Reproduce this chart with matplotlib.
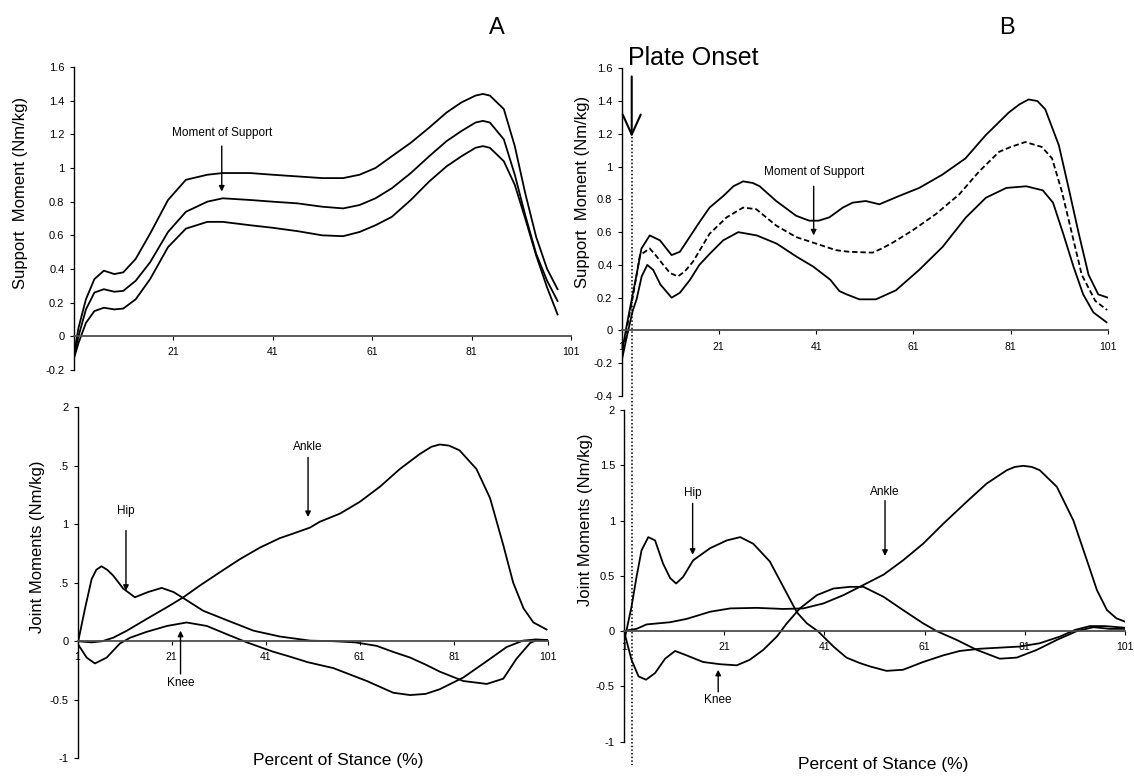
import matplotlib
matplotlib.use("Agg")
import matplotlib.pyplot as plt
import matplotlib.transforms as mtransforms
from matplotlib.lines import Line2D

plt.rcParams["font.family"] = ["Liberation Sans", "DejaVu Sans"]

W, H = 1134, 776

# ---------------- data: panel A (top) support moment, upper / mean / lower
a_sup_x = [1, 2, 3.5, 5.2, 7.1, 9.2, 11, 13.5, 16.4, 20, 23.6, 27.9, 31, 36.5, 41, 46, 51,
           55.2, 58.5, 61.7, 65, 68.8, 72.5, 76, 79, 81.8, 83.3, 84.7, 87.5, 89.7, 91.8, 94,
           96.2, 98.3]
a_sup_hi = [-0.12, 0.05, 0.22, 0.34, 0.39, 0.37, 0.38, 0.46, 0.61, 0.81, 0.93, 0.96, 0.97, 0.97,
            0.96, 0.95, 0.94, 0.94, 0.96, 1.0, 1.07, 1.15, 1.24, 1.33, 1.39, 1.43, 1.44, 1.43,
            1.35, 1.13, 0.85, 0.59, 0.40, 0.28]
a_sup_mid = [-0.13, 0.0, 0.16, 0.26, 0.28, 0.265, 0.27, 0.33, 0.44, 0.62, 0.74, 0.80, 0.82, 0.81,
             0.80, 0.79, 0.77, 0.76, 0.78, 0.82, 0.88, 0.97, 1.07, 1.16, 1.22, 1.27, 1.28, 1.27,
             1.17, 0.96, 0.72, 0.49, 0.33, 0.21]
a_sup_lo = [-0.14, -0.04, 0.08, 0.15, 0.17, 0.16, 0.165, 0.22, 0.34, 0.53, 0.64, 0.68, 0.68, 0.66,
            0.645, 0.625, 0.60, 0.595, 0.62, 0.66, 0.71, 0.81, 0.92, 1.01, 1.07, 1.12, 1.13, 1.12,
            1.04, 0.90, 0.70, 0.48, 0.29, 0.13]

# ---------------- data: panel A (bottom) joint moments
a_hip_x = [1, 2.6, 4, 5, 6.1, 7.3, 8.6, 10.7, 13.2, 16, 18.9, 21.4, 24.2, 27.7, 32.7, 38.4, 44,
           50.4, 55.4, 60, 64.6, 68, 71.7, 75, 78, 83, 88, 91.5, 94.3, 97.2, 98.6, 101]
a_hip_y = [-0.03, 0.28, 0.53, 0.61, 0.64, 0.61, 0.56, 0.45, 0.375, 0.42, 0.455, 0.42, 0.35, 0.26,
           0.18, 0.09, 0.04, 0.005, 0.0, -0.01, -0.04, -0.09, -0.14, -0.2, -0.26, -0.34, -0.365,
           -0.32, -0.15, -0.015, 0.01, 0.01]
a_knee_x = [1, 2.95, 4.7, 7.2, 10, 12.2, 15.7, 20, 24.2, 28.5, 32.7, 37, 42.6, 46, 50, 55.4,
            62.5, 68.1, 71.7, 75, 78, 83, 88, 92.2, 95.7, 98.4, 101]
a_knee_y = [-0.02, -0.14, -0.19, -0.14, -0.02, 0.03, 0.08, 0.13, 0.16, 0.13, 0.06, -0.01, -0.09,
            -0.13, -0.18, -0.23, -0.34, -0.44, -0.46, -0.45, -0.41, -0.31, -0.17, -0.05, 0.005,
            0.015, 0.01]
a_ankle_x = [1, 4, 6.3, 8.6, 11.5, 15.7, 20, 23.5, 27, 31.3, 35.5, 39.8, 44, 46.9, 50.4, 52.5,
             56.8, 61, 65.3, 69.5, 73.8, 76.2, 78, 80, 82.2, 85.8, 88.7, 91.5, 93.6, 95.8, 97.9,
             100.7]
a_ankle_y = [0, -0.01, 0.0, 0.03, 0.09, 0.19, 0.29, 0.375, 0.475, 0.59, 0.70, 0.80, 0.88, 0.92,
             0.97, 1.02, 1.09, 1.19, 1.32, 1.47, 1.60, 1.66, 1.68, 1.67, 1.63, 1.47, 1.22, 0.82,
             0.50, 0.28, 0.16, 0.10]

# ---------------- data: panel B (top) support moment
b_hi_x = [1, 2, 3.3, 4.1, 5.1, 6.8, 8.9, 11.3, 13, 15, 17, 19.1, 21.9, 24, 26, 28, 29.4, 32.8,
          36.9, 39.6, 41.5, 43.7, 46.5, 48.5, 51.2, 54, 58, 62.2, 66.9, 71.7, 75.8, 80.6, 82.8,
          84.7, 86.5, 88.1, 90.9, 92.9, 95, 97, 99, 101]
b_hi_y = [-0.15, 0.02, 0.22, 0.34, 0.50, 0.58, 0.55, 0.46, 0.48, 0.57, 0.66, 0.75, 0.82, 0.88,
          0.91, 0.90, 0.88, 0.79, 0.70, 0.67, 0.67, 0.69, 0.75, 0.78, 0.79, 0.77, 0.82, 0.87,
          0.95, 1.05, 1.19, 1.33, 1.38, 1.41, 1.40, 1.35, 1.13, 0.87, 0.59, 0.34, 0.22, 0.20]
b_mid_x = [1, 2, 3.3, 4.8, 6.8, 8, 9.6, 11, 12.6, 14, 15.7, 17.5, 19.1, 22.6, 26, 28.7, 32.8,
           36.9, 41, 45.1, 47.8, 52.6, 54.5, 56.7, 60.8, 65.6, 70.4, 74.5, 78.6, 81, 84, 87.4,
           89.5, 91.5, 93.6, 95.6, 98.4, 100.8]
b_mid_y = [-0.17, 0.0, 0.2, 0.46, 0.50, 0.46, 0.40, 0.35, 0.33, 0.36, 0.42, 0.51, 0.59, 0.69,
           0.75, 0.74, 0.64, 0.57, 0.53, 0.49, 0.48, 0.475, 0.50, 0.535, 0.61, 0.71, 0.83, 0.97,
           1.09, 1.12, 1.15, 1.12, 1.05, 0.85, 0.59, 0.34, 0.18, 0.125]
b_lo_x = [1, 2, 3.3, 4.1, 5.15, 6.3, 7.5, 9, 11.3, 13, 15.1, 17, 19.2, 21.9, 25, 28.8, 32.9, 37,
          40.4, 43.9, 45.8, 47.3, 49.9, 53.3, 57.4, 62.2, 67, 71.8, 75.9, 80.1, 84.2, 87.6, 89.7,
          91.8, 93.9, 95.9, 98, 100.7]
b_lo_y = [-0.19, -0.05, 0.12, 0.19, 0.33, 0.40, 0.37, 0.28, 0.20, 0.23, 0.31, 0.40, 0.47, 0.55,
          0.60, 0.58, 0.53, 0.45, 0.39, 0.31, 0.24, 0.22, 0.19, 0.19, 0.245, 0.37, 0.51, 0.69,
          0.81, 0.87, 0.88, 0.855, 0.78, 0.59, 0.39, 0.22, 0.11, 0.05]

# ---------------- data: panel B (bottom) joint moments
b_hip_x = [1, 2.5, 3.5, 4.5, 5.85, 7.2, 8.8, 10.2, 11.4, 12.8, 14.8, 18.2, 21.5, 24.2, 26.8,
           30.1, 32.8, 35.5, 37.5, 39.8, 42.8, 45.4, 48.1, 50.1, 53.4, 56.7, 60.7, 64.7, 68, 72,
           76, 80, 84, 88, 91, 94, 97, 101]
b_hip_y = [-0.1, 0.22, 0.49, 0.73, 0.85, 0.82, 0.61, 0.48, 0.43, 0.49, 0.64, 0.75, 0.82, 0.85,
           0.79, 0.63, 0.40, 0.17, 0.07, -0.005, -0.14, -0.24, -0.29, -0.32, -0.36, -0.35, -0.28,
           -0.22, -0.18, -0.16, -0.15, -0.14, -0.11, -0.05, 0.01, 0.045, 0.045, 0.03]
b_knee_x = [1, 2.5, 3.9, 5.4, 7.2, 9.2, 11.2, 13.5, 16.8, 20.2, 23.5, 26.1, 28.8, 31.5, 33.5,
            36.1, 39.5, 42.8, 46.1, 48.8, 52.8, 56.7, 60.7, 63.4, 67.4, 71.4, 76, 79.4, 83.4,
            87.4, 91.4, 94.7, 98, 101]
b_knee_y = [0.0, -0.26, -0.41, -0.44, -0.38, -0.25, -0.18, -0.22, -0.28, -0.30, -0.31, -0.26,
            -0.17, -0.05, 0.07, 0.205, 0.325, 0.385, 0.40, 0.40, 0.31, 0.19, 0.07, 0.0, -0.08,
            -0.17, -0.25, -0.24, -0.17, -0.08, 0.0, 0.035, 0.02, 0.02]
b_ankle_x = [1, 3.5, 5.5, 10.2, 13.5, 18.2, 22.2, 27.5, 32.8, 36.8, 40.8, 44.8, 47.4, 52.8, 56.7,
             60.7, 64.7, 69.4, 73.4, 77.4, 79, 80.7, 82.4, 84, 87.4, 90.7, 93.4, 95.4, 97.4,
             99.3, 101]
b_ankle_y = [0.0, 0.02, 0.06, 0.08, 0.11, 0.175, 0.205, 0.21, 0.20, 0.205, 0.25, 0.325, 0.385,
             0.51, 0.64, 0.79, 0.97, 1.17, 1.335, 1.455, 1.485, 1.495, 1.485, 1.455, 1.305, 1.0,
             0.64, 0.37, 0.19, 0.115, 0.085]

plate_onset = 3.1

sup_ticks = [-0.2, 0, 0.2, 0.4, 0.6, 0.8, 1, 1.2, 1.4, 1.6]
sup_labels = ["-0.2", "0", "0.2", "0.4", "0.6", "0.8", "1", "1.2", "1.4", "1.6"]
sup_ticks_b = [-0.4] + sup_ticks
sup_labels_b = ["-0.4"] + sup_labels
jm_ticks = [-1, -0.5, 0, 0.5, 1, 1.5, 2]
jm_labels_a = ["-1", "-0.5", "0", ".5", "1", ".5", "2"]
jm_labels_b = ["-1", "-0.5", "0", "0.5", "1", "1.5", "2"]
x_ticks = [1, 21, 41, 61, 81, 101]
x_labels = ["1", "21", "41", "61", "81", "101"]


def box(l, t, r, b):
    # pixel box -> figure rect
    return [l / W, 1 - b / H, (r - l) / W, (b - t) / H]


def style(ax, ylim, yt, yl, xt, xl):
    ax.set_xlim(1, 101)
    ax.set_ylim(*ylim)
    ax.patch.set_alpha(0)
    for s in ("top", "right"):
        ax.spines[s].set_visible(False)
    ax.spines["bottom"].set_position(("data", 0))
    ax.spines["bottom"].set_color("0.3")
    ax.spines["bottom"].set_linewidth(1.3)
    ax.spines["left"].set_linewidth(1.0)
    ax.set_yticks(yt)
    ax.set_yticklabels(yl, fontsize=8)
    ax.set_xticks(xt)
    ax.set_xticklabels(xl, fontsize=7.5)
    ax.tick_params(axis="both", direction="out", length=3, width=0.8)
    ax.tick_params(axis="x", pad=5)


def note(ax, text, x, ytext, ystart, yend):
    ax.text(x, ytext, text, fontsize=8.5, ha="center", va="center")
    ax.annotate("", xy=(x, yend), xytext=(x, ystart),
                arrowprops=dict(arrowstyle="-|>", lw=1.0, color="black",
                                mutation_scale=8, shrinkA=0, shrinkB=0))


def curve(ax, x, y, **kw):
    ax.plot(x, y, color="black", lw=1.3, solid_joinstyle="round", **kw)


fig = plt.figure(figsize=(W / 100, H / 100), dpi=100)

ax_tl = fig.add_axes(box(73.5, 67, 571, 370))
ax_bl = fig.add_axes(box(77.5, 407, 548, 758.3))
ax_tr = fig.add_axes(box(621.5, 68.3, 1108, 396))
ax_br = fig.add_axes(box(624, 410, 1125, 741.6))

# panel A top
curve(ax_tl, a_sup_x, a_sup_hi)
curve(ax_tl, a_sup_x, a_sup_mid)
curve(ax_tl, a_sup_x, a_sup_lo)
style(ax_tl, (-0.2, 1.6), sup_ticks, sup_labels, x_ticks[1:], x_labels[1:])
note(ax_tl, "Moment of Support", 30.8, 1.21, 1.13, 0.86)

# panel A bottom
curve(ax_bl, a_hip_x, a_hip_y)
curve(ax_bl, a_knee_x, a_knee_y)
curve(ax_bl, a_ankle_x, a_ankle_y)
style(ax_bl, (-1, 2), jm_ticks, jm_labels_a, x_ticks, x_labels)
note(ax_bl, "Ankle", 50, 1.66, 1.57, 1.06)
note(ax_bl, "Hip", 11.3, 1.11, 0.945, 0.43)
note(ax_bl, "Knee", 22.9, -0.36, -0.28, 0.09)

# panel B top
curve(ax_tr, b_hi_x, b_hi_y)
curve(ax_tr, b_mid_x, b_mid_y, dashes=(3, 1.6))
curve(ax_tr, b_lo_x, b_lo_y)
style(ax_tr, (-0.4, 1.6), sup_ticks_b, sup_labels_b, x_ticks, x_labels)
note(ax_tr, "Moment of Support", 40.5, 0.97, 0.88, 0.58)

# panel B bottom
curve(ax_br, b_hip_x, b_hip_y)
curve(ax_br, b_knee_x, b_knee_y)
curve(ax_br, b_ankle_x, b_ankle_y)
style(ax_br, (-1, 2), jm_ticks, jm_labels_b, x_ticks, x_labels)
note(ax_br, "Hip", 14.7, 1.25, 1.155, 0.69)
note(ax_br, "Ankle", 53.1, 1.26, 1.18, 0.68)
note(ax_br, "Knee", 19.8, -0.62, -0.55, -0.35)

# plate onset marker: dotted line through both B panels
trans = mtransforms.blended_transform_factory(ax_tr.transData, ax_tr.transAxes)
ax_tr.add_line(Line2D([plate_onset, plate_onset], [(1.18 + 0.4) / 2.0, -1.126],
                      transform=trans, color="black", lw=1.1, dashes=(1, 1.4),
                      clip_on=False))
ax_tr.annotate("", xy=(plate_onset, 1.18), xytext=(plate_onset, 1.55),
               arrowprops=dict(arrowstyle="->,head_length=0.4,head_width=0.18", lw=1.5,
                               color="black", mutation_scale=36, shrinkA=0, shrinkB=0),
               annotation_clip=False)
ax_tr.text(2.3, 1.62, "Plate Onset", fontsize=18, ha="left", va="baseline")

# axis titles and panel letters
fig.text(21 / W, 1 - 193 / H, "Support  Moment (Nm/kg)", rotation=90, fontsize=12,
         ha="center", va="center")
fig.text(37.5 / W, 1 - 547 / H, "Joint Moments (Nm/kg)", rotation=90, fontsize=12,
         ha="center", va="center")
fig.text(583 / W, 1 - 192 / H, "Support  Moment (Nm/kg)", rotation=90, fontsize=12,
         ha="center", va="center")
fig.text(585 / W, 1 - 520 / H, "Joint Moments (Nm/kg)", rotation=90, fontsize=12,
         ha="center", va="center")
fig.text(338 / W, 1 - 760 / H, "Percent of Stance (%)", fontsize=12.5, ha="center", va="center")
fig.text(883 / W, 1 - 765 / H, "Percent of Stance (%)", fontsize=12.5, ha="center", va="center")
fig.text(497 / W, 1 - 28 / H, "A", fontsize=17, ha="center", va="center")
fig.text(1007 / W, 1 - 28 / H, "B", fontsize=17, ha="center", va="center")

fig.savefig("out.png", dpi=100)
